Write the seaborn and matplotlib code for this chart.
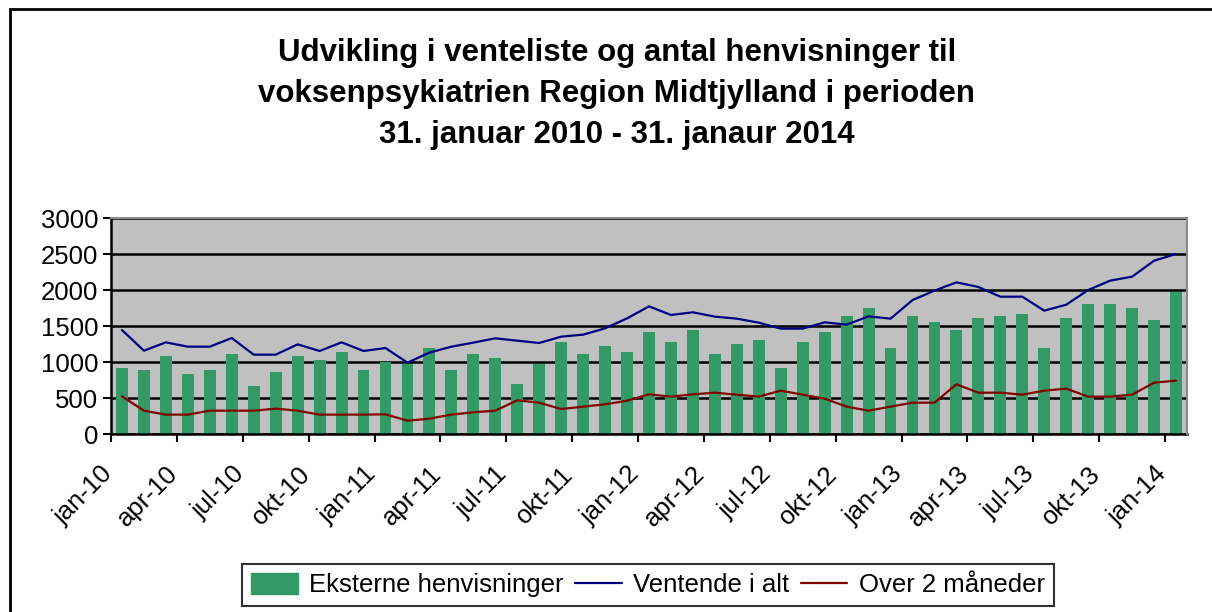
import numpy as np
import pandas as pd
import matplotlib
matplotlib.use("Agg")
import matplotlib.pyplot as plt
import matplotlib.patches as mpatches
import matplotlib.transforms as mtransforms
from matplotlib.lines import Line2D
import seaborn as sns

mon = ["jan", "feb", "mar", "apr", "maj", "jun", "jul", "aug", "sep", "okt", "nov", "dec"]
months = [f"{mon[i % 12]}-{10 + i // 12}" for i in range(49)]

eksterne = [917, 889, 1083, 833, 889, 1111, 667, 861, 1083, 1028, 1139, 889,
            1000, 972, 1194, 889, 1111, 1056, 694, 972, 1278, 1111, 1222, 1139,
            1417, 1278, 1444, 1111, 1250, 1306, 917, 1278, 1417, 1639, 1750, 1194,
            1639, 1556, 1444, 1611, 1639, 1667, 1194, 1611, 1806, 1806, 1750, 1583,
            1972]
ventende = [1444, 1157, 1273, 1213, 1213, 1333, 1102, 1102, 1245, 1153, 1273, 1153,
            1194, 991, 1130, 1213, 1269, 1329, 1296, 1264, 1352, 1380, 1468, 1606,
            1773, 1653, 1690, 1630, 1602, 1546, 1463, 1463, 1551, 1519, 1634, 1602,
            1860, 1991, 2106, 2042, 1907, 1907, 1713, 1796, 2000, 2130, 2185, 2407,
            2500]
over2 = [523, 324, 269, 269, 324, 324, 324, 352, 324, 269, 269, 269,
         273, 185, 213, 269, 301, 324, 468, 435, 347, 380, 412, 463,
         551, 519, 551, 574, 546, 519, 602, 546, 491, 380, 324, 380,
         435, 435, 690, 574, 574, 546, 602, 630, 519, 519, 546, 713,
         741]

title = ("Udvikling i venteliste og antal henvisninger til\n"
         "voksenpsykiatrien Region Midtjylland i perioden\n"
         "31. januar 2010 - 31. janaur 2014")
legend_labels = ["Eksterne henvisninger", "Ventende i alt", "Over 2 måneder"]

sns.set_style("white")
plt.rcParams["font.family"] = ["Liberation Sans", "DejaVu Sans"]
plt.rcParams["text.color"] = "black"
plt.rcParams["xtick.color"] = "black"
plt.rcParams["ytick.color"] = "black"

GREEN = "#339966"
BLUE = "#000080"
RED = "#800000"

df = pd.DataFrame({"month": months, "eksterne": eksterne,
                   "ventende": ventende, "over2": over2, "pos": np.arange(len(months))})

fig = plt.figure(figsize=(12.12, 6.12), dpi=100)
ax = fig.add_axes([111 / 1212, 1 - 434 / 612, (1187 - 111) / 1212, (434 - 218) / 612])
ax.set_facecolor("#C0C0C0")

sns.barplot(data=df, x="month", y="eksterne", color=GREEN, width=0.54,
            saturation=1, ax=ax, zorder=2, edgecolor="none")
sns.lineplot(data=df, x="pos", y="ventende", color=BLUE, lw=1.6, ax=ax, zorder=3)
sns.lineplot(data=df, x="pos", y="over2", color=RED, lw=1.6, ax=ax, zorder=3)

ax.set_xlim(-0.5, len(months) - 0.5)
ax.set_ylim(0, 3000)
ax.set_yticks(np.arange(0, 3001, 500))
ax.set_axisbelow(True)
ax.yaxis.grid(True, color="black", lw=1.8)
ax.xaxis.grid(False)

tick_pos = np.arange(0, len(months), 3) - 0.5
ax.set_xticks(tick_pos)
ax.set_xticklabels([months[i] for i in range(0, len(months), 3)], rotation=45,
                   ha="right", fontsize=18.5)
ax.tick_params(axis="x", direction="out", length=6, width=1.5, pad=14, bottom=True)
ax.tick_params(axis="y", direction="out", length=6, width=1.5, pad=3, labelsize=18.5, left=True)
shift = mtransforms.ScaledTranslation(6 / 100, 0, fig.dpi_scale_trans)
for lbl in ax.get_xticklabels():
    lbl.set_transform(lbl.get_transform() + shift)
ax.set_xlabel("")
ax.set_ylabel("")

for s in ["left", "bottom"]:
    ax.spines[s].set_color("black")
    ax.spines[s].set_linewidth(1.8)
for s in ["top", "right"]:
    ax.spines[s].set_color("#8c8c8c")
    ax.spines[s].set_linewidth(1.5)
    ax.spines[s].set_zorder(5)

fig.text(617 / 1212, 1 - 94 / 612, title, ha="center", va="center", color="black",
         fontsize=22.5, fontweight="bold", linespacing=1.5)

handles = [mpatches.Patch(color=GREEN),
           Line2D([], [], color=BLUE, lw=1.6),
           Line2D([], [], color=RED, lw=1.6)]
leg = fig.legend(handles, legend_labels, loc="center",
                 bbox_to_anchor=(648 / 1212, 1 - 585 / 612), ncol=3, fontsize=18.5,
                 frameon=True, fancybox=False, edgecolor="black", handlelength=1.8,
                 handleheight=0.9, handletextpad=0.45, columnspacing=0.45,
                 borderpad=0.35, borderaxespad=0)
leg.get_frame().set_linewidth(1.5)

fig.patches.append(mpatches.Rectangle((10 / 1212, -0.5), 1.5, 1.5 - 9 / 612,
                                      transform=fig.transFigure, fill=False,
                                      edgecolor="black", lw=2.0, clip_on=False))

fig.savefig("out.png", dpi=100)
